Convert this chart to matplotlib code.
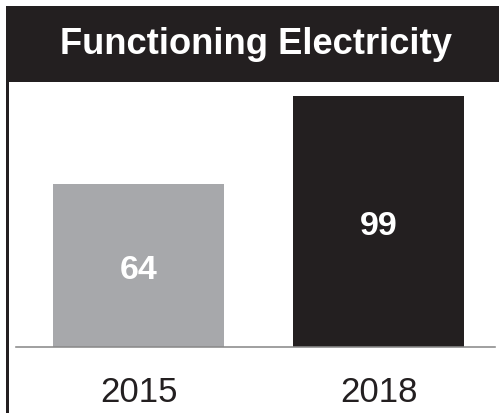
import matplotlib
matplotlib.use("Agg")
import matplotlib.pyplot as plt
from matplotlib.patches import Rectangle
from matplotlib.lines import Line2D

# Data
years = ["2015", "2018"]
values = [64, 99]
bar_colors = ["#a7a8ab", "#231f20"]
title = "Functioning Electricity"

W, H = 499, 414
DPI = 100
plt.rcParams["font.family"] = ["Liberation Sans", "DejaVu Sans"]

fig = plt.figure(figsize=(W / DPI, H / DPI), dpi=DPI)
fig.patch.set_facecolor("white")

def fx(px):
    return px / W

def fy(py):
    # pixel row measured from top -> figure fraction
    return (H - py) / H

# Title banner
fig.patches.append(Rectangle((fx(6), fy(83)), fx(W - 6), fy(7) - fy(83),
                             transform=fig.transFigure, facecolor="#231f20",
                             edgecolor="none", zorder=0))
fig.text(fx(255.5), fy(54.5), title, color="white", fontsize=26.2,
         fontweight="bold", ha="center", va="baseline")

# Left frame edge
fig.lines.append(Line2D([fx(6.5), fx(6.5)], [fy(83), fy(H)],
                        transform=fig.transFigure, color="#231f20",
                        linewidth=3 * 72 / DPI))

# Plot area
base_px, top_px = 348, 86
left_px, right_px = 16, 495
scale = 2.54  # pixels per unit
ax = fig.add_axes([fx(left_px), fy(base_px), fx(right_px - left_px),
                   (base_px - top_px) / H])
ax.set_ylim(0, (base_px - top_px) / scale)
step = 240.0
ax.set_xlim(-(138.5 - left_px) / step, 1 + (right_px - 378.5) / step)
ax.patch.set_alpha(0)

x = list(range(len(years)))
ax.bar(x, values, width=171 / step, color=bar_colors, zorder=2)

for xi, v in zip(x, values):
    ax.annotate(f"{v}", (xi, v / 2), xytext=(0, -12.5),
                textcoords="offset pixels", ha="center", va="baseline",
                color="white", fontsize=24.5, fontweight="bold", zorder=3)

for s in ["top", "right", "left"]:
    ax.spines[s].set_visible(False)
ax.spines["bottom"].set_color("#8a8a8a")
ax.spines["bottom"].set_linewidth(1.6 * 72 / DPI)
ax.spines["bottom"].set_zorder(3)
ax.set_yticks([])
ax.set_xticks([])

for xi, label in zip(x, years):
    ax.annotate(label, (xi, 0), xytext=(0, -(402 - base_px)),
                textcoords="offset pixels", ha="center", va="baseline",
                color="#231f20", fontsize=25)

fig.savefig("out.png", dpi=DPI, facecolor="white")
